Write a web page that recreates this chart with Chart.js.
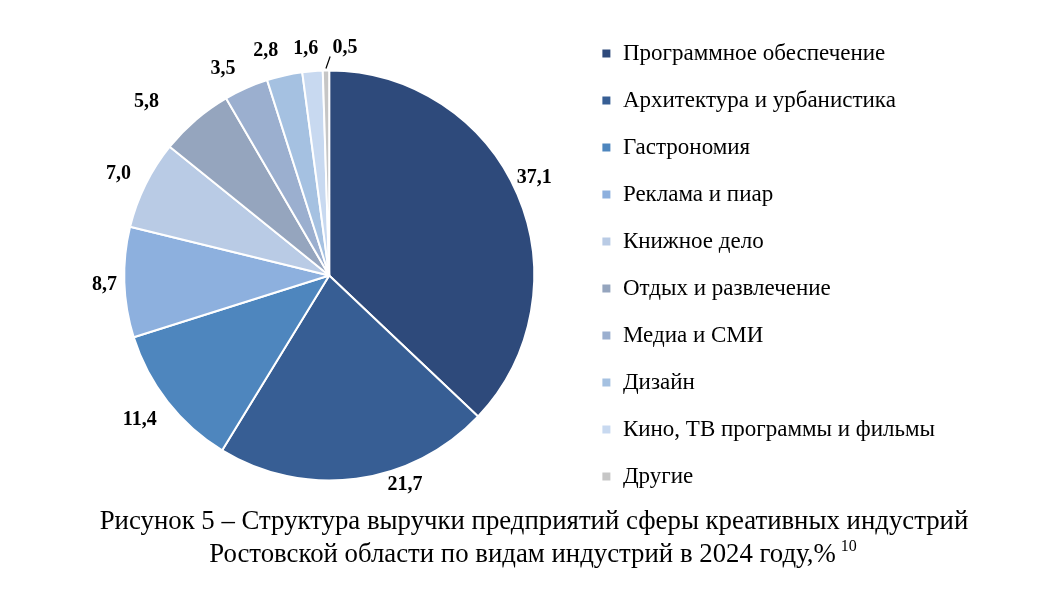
<!DOCTYPE html>
<html>
<head>
<meta charset="utf-8">
<script src="https://cdn.jsdelivr.net/npm/chart.js@4.4.1/dist/chart.umd.min.js"></script>
<style>
  html, body { margin: 0; padding: 0; background: #fff; }
  #wrap { position: relative; width: 1049px; height: 606px; }
</style>
</head>
<body>
<div id="wrap"><canvas id="c" width="1049" height="606"></canvas></div>
<script>
const categories = [
  'Программное обеспечение',
  'Архитектура и урбанистика',
  'Гастрономия',
  'Реклама и пиар',
  'Книжное дело',
  'Отдых и развлечение',
  'Медиа и СМИ',
  'Дизайн',
  'Кино, ТВ программы и фильмы',
  'Другие'
];
const shares = [37.1, 21.7, 11.4, 8.7, 7.0, 5.8, 3.5, 2.8, 1.6, 0.5];
const valueLabels = ['37,1', '21,7', '11,4', '8,7', '7,0', '5,8', '3,5', '2,8', '1,6', '0,5'];
const captionLine1 = 'Рисунок 5 – Структура выручки предприятий сферы креативных индустрий';
const captionLine2 = 'Ростовской области по видам индустрий в 2024 году,%';
const captionNote = '10';

const sliceColors = ['#2E4A7B', '#375E94', '#4E86BE', '#8DB0DE', '#B9CBE5',
                     '#95A5BE', '#9BAFCF', '#A5C1E1', '#C8D9F0', '#C6C6C6'];
// label placement: [angle shift in degrees from slice middle, distance from centre]
const labelPlacement = [[-2.1, 227], [-12.3, 223], [0.8, 238], [-0.4, 225], [-0.5, 234],
                        [-5.8, 252], [-3.3, 232], [-3.2, 233], [-1.2, 228], [4.9, 228]];

const SERIF = '"Liberation Serif", "Times New Roman", serif';

const valueLabelPlugin = {
  id: 'valueLabels',
  afterDatasetsDraw(chart) {
    const meta = chart.getDatasetMeta(0);
    const ctx = chart.ctx;
    ctx.save();
    ctx.font = 'bold 20px ' + SERIF;
    ctx.fillStyle = '#000';
    ctx.textAlign = 'center';
    ctx.textBaseline = 'middle';
    meta.data.forEach((arc, i) => {
      const mid = (arc.startAngle + arc.endAngle) / 2;
      const pl = labelPlacement[i];
      const a = mid + pl[0] * Math.PI / 180;
      const x = arc.x + Math.cos(a) * pl[1];
      const y = arc.y + Math.sin(a) * pl[1];
      ctx.fillText(valueLabels[i], x, y);
      if (i === shares.length - 1) {
        ctx.strokeStyle = '#000';
        ctx.lineWidth = 1.2;
        ctx.beginPath();
        ctx.moveTo(arc.x + Math.cos(mid) * (arc.outerRadius + 2), arc.y + Math.sin(mid) * (arc.outerRadius + 2));
        ctx.lineTo(arc.x + Math.cos(mid + 0.02) * (arc.outerRadius + 14), arc.y + Math.sin(mid + 0.02) * (arc.outerRadius + 14));
        ctx.stroke();
      }
    });
    ctx.restore();
  }
};

const captionPlugin = {
  id: 'caption',
  afterDraw(chart) {
    const ctx = chart.ctx;
    ctx.save();
    ctx.fillStyle = '#000';
    ctx.textBaseline = 'middle';
    ctx.font = '26.8px ' + SERIF;
    ctx.textAlign = 'center';
    ctx.fillText(captionLine1, 534, 522);
    const w2 = ctx.measureText(captionLine2).width;
    ctx.font = '16px ' + SERIF;
    const wn = ctx.measureText(captionNote).width;
    const gap = 5;
    const start = 533 - (w2 + gap + wn) / 2;
    ctx.textAlign = 'left';
    ctx.font = '26.8px ' + SERIF;
    ctx.fillText(captionLine2, start, 555);
    ctx.font = '16px ' + SERIF;
    ctx.fillText(captionNote, start + w2 + gap, 547);
    ctx.restore();
  }
};

new Chart(document.getElementById('c'), {
  type: 'pie',
  data: {
    labels: categories,
    datasets: [{
      data: shares,
      backgroundColor: sliceColors,
      borderColor: '#ffffff',
      borderWidth: 2,
      radius: 205
    }]
  },
  options: {
    responsive: false,
    animation: false,
    devicePixelRatio: 1,
    layout: { padding: { top: 18, bottom: 73, left: 81, right: 104 } },
    plugins: {
      legend: {
        position: 'right',
        align: 'start',
        labels: {
          boxWidth: 10,
          boxHeight: 10,
          padding: 24,
          color: '#000',
          font: { family: SERIF, size: 23 }
        }
      },
      title: { display: false },
      tooltip: { enabled: false }
    }
  },
  plugins: [valueLabelPlugin, captionPlugin]
});
</script>
</body>
</html>
